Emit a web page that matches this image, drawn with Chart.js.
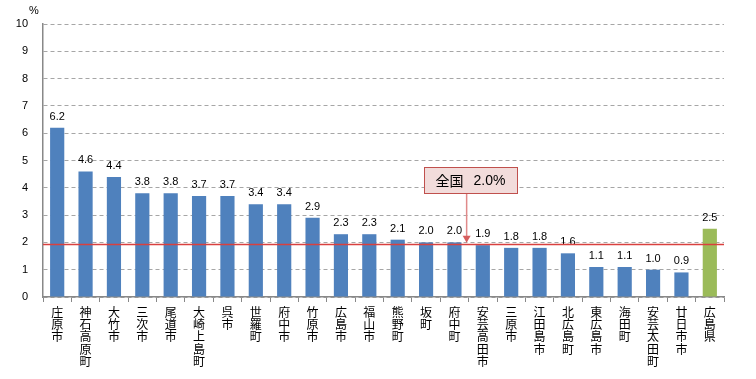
<!DOCTYPE html>
<html><head><meta charset="utf-8">
<script src="https://cdn.jsdelivr.net/npm/chart.js@4"></script>
<style>html,body{margin:0;padding:0;background:#fff}</style>
</head><body>
<canvas id="c" width="756" height="379"></canvas>
<script>
const categories = ['庄原市','神石高原町','大竹市','三次市','尾道市','大崎上島町','呉市','世羅町','府中市','竹原市','広島市','福山市','熊野町','坂町','府中町','安芸高田市','三原市','江田島市','北広島町','東広島市','海田町','安芸太田町','廿日市市','広島県'];
const values = [6.2,4.6,4.4,3.8,3.8,3.7,3.7,3.4,3.4,2.9,2.3,2.3,2.1,2.0,2.0,1.9,1.8,1.8,1.6,1.1,1.1,1.0,0.9,2.5];
const yTicks = [0,1,2,3,4,5,6,7,8,9,10];
const nationalValue = 1.95;
const nationalLabel = ['全国', '2.0%'];
const unitLabel = '%';

const LATIN = '"Liberation Sans", "Noto Sans CJK JP", sans-serif';
const CJK = '"Noto Sans CJK JP", "Liberation Sans", sans-serif';
const colors = categories.map((c, i) => i === categories.length - 1 ? '#9bbb59' : '#4f81bd');

const overlay = {
  id: 'overlay',
  afterDatasetsDraw(chart) {
    const ctx = chart.ctx;
    const ys = chart.scales.y, xs = chart.scales.x;
    const area = chart.chartArea;
    // data labels
    ctx.save();
    ctx.font = '11px ' + LATIN;
    ctx.fillStyle = '#000';
    ctx.textAlign = 'center';
    ctx.textBaseline = 'alphabetic';
    chart.getDatasetMeta(0).data.forEach((bar, i) => {
      ctx.fillText(values[i].toFixed(1), bar.x, bar.y - 8);
    });
    ctx.restore();
    // national line
    const yl = Math.round(ys.getPixelForValue(nationalValue)) + 0.5;
    ctx.save();
    ctx.strokeStyle = '#d9403f';
    ctx.lineWidth = 1.5;
    ctx.beginPath();
    ctx.moveTo(area.left, yl);
    ctx.lineTo(area.right, yl);
    ctx.stroke();
    ctx.restore();
  },
  afterDraw(chart) {
    const ctx = chart.ctx;
    const ys = chart.scales.y, xs = chart.scales.x;
    // unit label
    ctx.save();
    ctx.font = '11px ' + LATIN;
    ctx.fillStyle = '#000';
    ctx.textAlign = 'center';
    ctx.textBaseline = 'middle';
    ctx.fillText(unitLabel, 34, 11);
    ctx.restore();
    // callout
    const ax = xs.getPixelForValue(14) + (xs.getPixelForValue(15) - xs.getPixelForValue(14)) * 0.43;
    const tip = ys.getPixelForValue(nationalValue) - 1;
    const top = Math.round(ys.getPixelForValue(4.76)) + 0.5;
    const bot = Math.round(ys.getPixelForValue(3.81)) + 0.5;
    const bx = Math.round(ax - 43) + 0.5, bw = 93;
    ctx.save();
    // arrow
    ctx.strokeStyle = '#e08a8a';
    ctx.lineWidth = 1.5;
    ctx.beginPath();
    ctx.moveTo(ax, bot);
    ctx.lineTo(ax, tip - 5);
    ctx.stroke();
    ctx.fillStyle = '#d65c5c';
    ctx.beginPath();
    ctx.moveTo(ax - 4, tip - 7);
    ctx.lineTo(ax + 4, tip - 7);
    ctx.lineTo(ax, tip);
    ctx.closePath();
    ctx.fill();
    // box
    ctx.fillStyle = '#f2dcdb';
    ctx.strokeStyle = '#c0504d';
    ctx.lineWidth = 1;
    ctx.fillRect(bx, top, bw, bot - top);
    ctx.strokeRect(bx, top, bw, bot - top);
    ctx.fillStyle = '#000';
    ctx.textBaseline = 'middle';
    ctx.textAlign = 'left';
    const cy = (top + bot) / 2 + 0.5;
    ctx.font = '14px ' + CJK;
    ctx.fillText(nationalLabel[0], bx + 11, cy);
    ctx.font = '14px ' + LATIN;
    ctx.fillText(nationalLabel[1], bx + 49, cy);
    ctx.restore();
  }
};

new Chart(document.getElementById('c'), {
  type: 'bar',
  data: {
    labels: categories.map(s => s.split('')),
    datasets: [{
      data: values,
      backgroundColor: colors,
      borderWidth: 0,
      barPercentage: 0.5,
      categoryPercentage: 1.0
    }]
  },
  options: {
    responsive: false,
    animation: false,
    devicePixelRatio: 1,
    layout: { padding: { left: 0, top: 24, right: 32, bottom: 0 } },
    plugins: { legend: { display: false }, tooltip: { enabled: false } },
    scales: {
      x: {
        offset: true,
        afterFit(scale) { scale.height = 82; },
        grid: { drawOnChartArea: false, drawTicks: true, tickLength: 5, color: '#888', offset: true },
        border: { color: '#888', width: 1.5 },
        ticks: {
          autoSkip: false, maxRotation: 0, minRotation: 0, padding: 4,
          color: '#000',
          font: { family: CJK, size: 12, lineHeight: 1.03 }
        }
      },
      y: {
        min: 0, max: 10,
        afterFit(scale) { scale.width = 43; },
        afterBuildTicks(scale) { scale.ticks = yTicks.map(v => ({ value: v })); },
        grid: { color: '#a6a6a6', drawTicks: false, lineWidth: 1 },
        border: { color: '#888', width: 1.5, dash: [4, 3] },
        ticks: {
          padding: 15, color: '#000',
          font: { family: LATIN, size: 11 }
        }
      }
    }
  },
  plugins: [overlay]
});
</script>
</body></html>
